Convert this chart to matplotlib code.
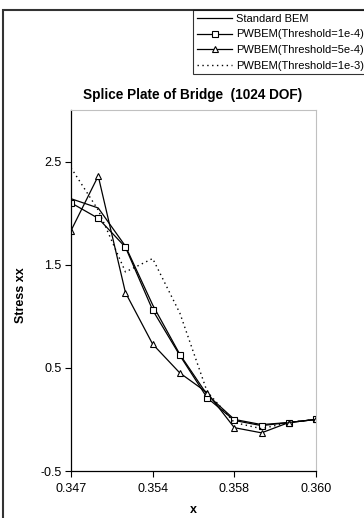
import matplotlib
matplotlib.use("Agg")
import matplotlib.pyplot as plt
from matplotlib.patches import Rectangle

## Donnees
x_vals = [0.347, 0.350, 0.352, 0.354, 0.356, 0.357, 0.358, 0.359, 0.3595, 0.360]
standard = [2.14, 2.05, 1.68, 1.11, 0.63, 0.24, 0.00, -0.05, -0.03, 0.00]
pw_1e4 = [2.10, 1.95, 1.67, 1.06, 0.62, 0.21, -0.01, -0.06, -0.03, 0.00]
pw_5e4 = [1.83, 2.36, 1.23, 0.73, 0.45, 0.26, -0.08, -0.13, -0.03, 0.00]
pw_1e3 = [2.44, 2.03, 1.43, 1.56, 1.03, 0.27, -0.03, -0.09, -0.03, 0.00]
y_ticks = [-0.5, 0.5, 1.5, 2.5]

plt.rcParams['font.family'] = ['Liberation Sans', 'DejaVu Sans']

W, H = 364, 518
fig = plt.figure(figsize=(W/100, H/100), dpi=100)

# cadre du graphique
fig.patches.append(Rectangle((3/W, -0.1), 1.2, 1 - 10/H + 0.1, transform=fig.transFigure,
                             fill=False, edgecolor='#333333', linewidth=1.5))

ax = fig.add_axes([71/W, 1 - 471/H, (316-71)/W, (471-110)/H])
idx = list(range(len(x_vals)))

ax.plot(idx, standard, color='black', lw=0.9, label='Standard BEM')
ax.plot(idx, pw_1e4, color='black', lw=0.9, marker='s', ms=4.5, mfc='white',
        mew=0.8, label='PWBEM(Threshold=1e-4)')
ax.plot(idx, pw_5e4, color='black', lw=0.9, marker='^', ms=5, mfc='white',
        mew=0.8, label='PWBEM(Threshold=5e-4)')
ax.plot(idx, pw_1e3, color='black', lw=1.0, ls=(0, (1, 2.5)), label='PWBEM(Threshold=1e-3)')

ax.set_xlim(0, len(x_vals) - 1)
ax.set_ylim(-0.5, 3.0)
ax.set_xticks(idx[::3])
ax.set_xticklabels(["%.3f" % v for v in x_vals[::3]])
ax.set_yticks(y_ticks)
ax.set_yticklabels([str(v) for v in y_ticks])
ax.tick_params(direction='out', length=4, width=0.8, labelsize=9)
ax.tick_params(axis='x', pad=5)
ax.tick_params(axis='y', pad=3)

ax.spines['top'].set_color('#c0c0c0')
ax.spines['right'].set_color('#c0c0c0')
ax.spines['left'].set_linewidth(0.9)
ax.spines['bottom'].set_linewidth(0.9)

ax.set_xlabel('x', fontsize=9, fontweight='bold', labelpad=6)
ax.set_ylabel('Stress xx', fontsize=9, fontweight='bold')
ax.yaxis.set_label_coords((27-71)/245, (471-295)/361)
fig.text(193/W, 1 - 95/H, 'Splice Plate of Bridge  (1024 DOF)', fontsize=9.8,
         fontweight='bold', ha='center', va='center')

leg = fig.legend(loc='upper left', bbox_to_anchor=(193/W, 1 - 10/H), fontsize=8,
                 frameon=True, fancybox=False, handlelength=3.2, handletextpad=0.3,
                 borderpad=0.35, labelspacing=0.5, borderaxespad=0)
leg.get_frame().set_edgecolor('black')
leg.get_frame().set_linewidth(0.8)

fig.savefig('out.png', dpi=100)
